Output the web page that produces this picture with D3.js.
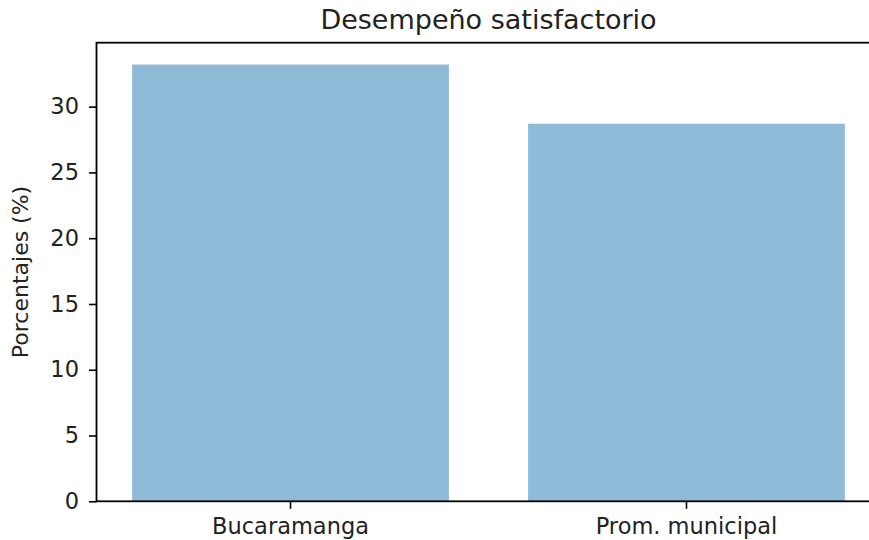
<!DOCTYPE html>
<html>
<head>
<meta charset="utf-8">
<script src="https://cdn.jsdelivr.net/npm/d3@7"></script>
<style>
  body { margin: 0; background: #fff; }
  svg { display: block; font-family: "DejaVu Sans", sans-serif; }
</style>
</head>
<body>
<div id="chart"></div>
<script>
// data
var categories = ["Bucaramanga", "Prom. municipal"];
var values = [33.2, 28.7];
var yTicks = [0, 5, 10, 15, 20, 25, 30];
var titleText = "Desempeño satisfactorio";
var yLabelText = "Porcentajes (%)";

var W = 869, H = 540;
// axes box (right side runs off the picture, like the source)
var margin = { top: 42.7, left: 96.5, bottom: 38.7 },
    axW = 784,
    axH = H - margin.top - margin.bottom;

var svg = d3.select("#chart").append("svg")
    .attr("width", W)
    .attr("height", H);

var g = svg.append("g")
    .attr("transform", "translate(" + margin.left + "," + margin.top + ")");

var x = d3.scaleBand()
    .domain(categories)
    .range([0, axW])
    .paddingInner(0.2)
    .paddingOuter(0.09);

var y = d3.scaleLinear()
    .domain([0, d3.max(values) * 1.05])
    .range([axH, 0]);

var data = categories.map(function (c, i) { return { cat: c, val: values[i] }; });

g.selectAll("rect.bar")
    .data(data)
    .enter().append("rect")
    .attr("class", "bar")
    .attr("x", function (d) { return x(d.cat); })
    .attr("width", x.bandwidth())
    .attr("y", function (d) { return y(d.val); })
    .attr("height", function (d) { return axH - y(d.val); })
    .style("fill", "#1f77b4")
    .style("fill-opacity", 0.5);

// axes
var xAxis = g.append("g")
    .attr("transform", "translate(0," + axH + ")")
    .call(d3.axisBottom(x).tickSizeOuter(0).tickSize(7.5).tickPadding(9));

var yAxis = g.append("g")
    .call(d3.axisLeft(y).tickValues(yTicks).tickSizeOuter(0).tickSize(7.5).tickPadding(10));

[xAxis, yAxis].forEach(function (a) {
    a.select(".domain").remove();
    a.selectAll("line").attr("stroke", "#000").attr("stroke-width", 1.6);
    a.selectAll("text")
        .attr("fill", "#222")
        .style("font-family", "'DejaVu Sans', sans-serif")
        .style("font-size", "22.5px");
});

// spines
g.append("rect")
    .attr("x", 0).attr("y", 0)
    .attr("width", axW).attr("height", axH)
    .attr("fill", "none")
    .attr("stroke", "#000")
    .attr("stroke-width", 1.8);

// title
g.append("text")
    .attr("x", axW / 2)
    .attr("y", -13.5)
    .attr("text-anchor", "middle")
    .attr("fill", "#222")
    .style("font-size", "27px")
    .text(titleText);

// y label
svg.append("text")
    .attr("transform", "translate(" + 28 + "," + (margin.top + axH / 2) + ") rotate(-90)")
    .attr("text-anchor", "middle")
    .attr("fill", "#222")
    .style("font-size", "22px")
    .text(yLabelText);
</script>
</body>
</html>
